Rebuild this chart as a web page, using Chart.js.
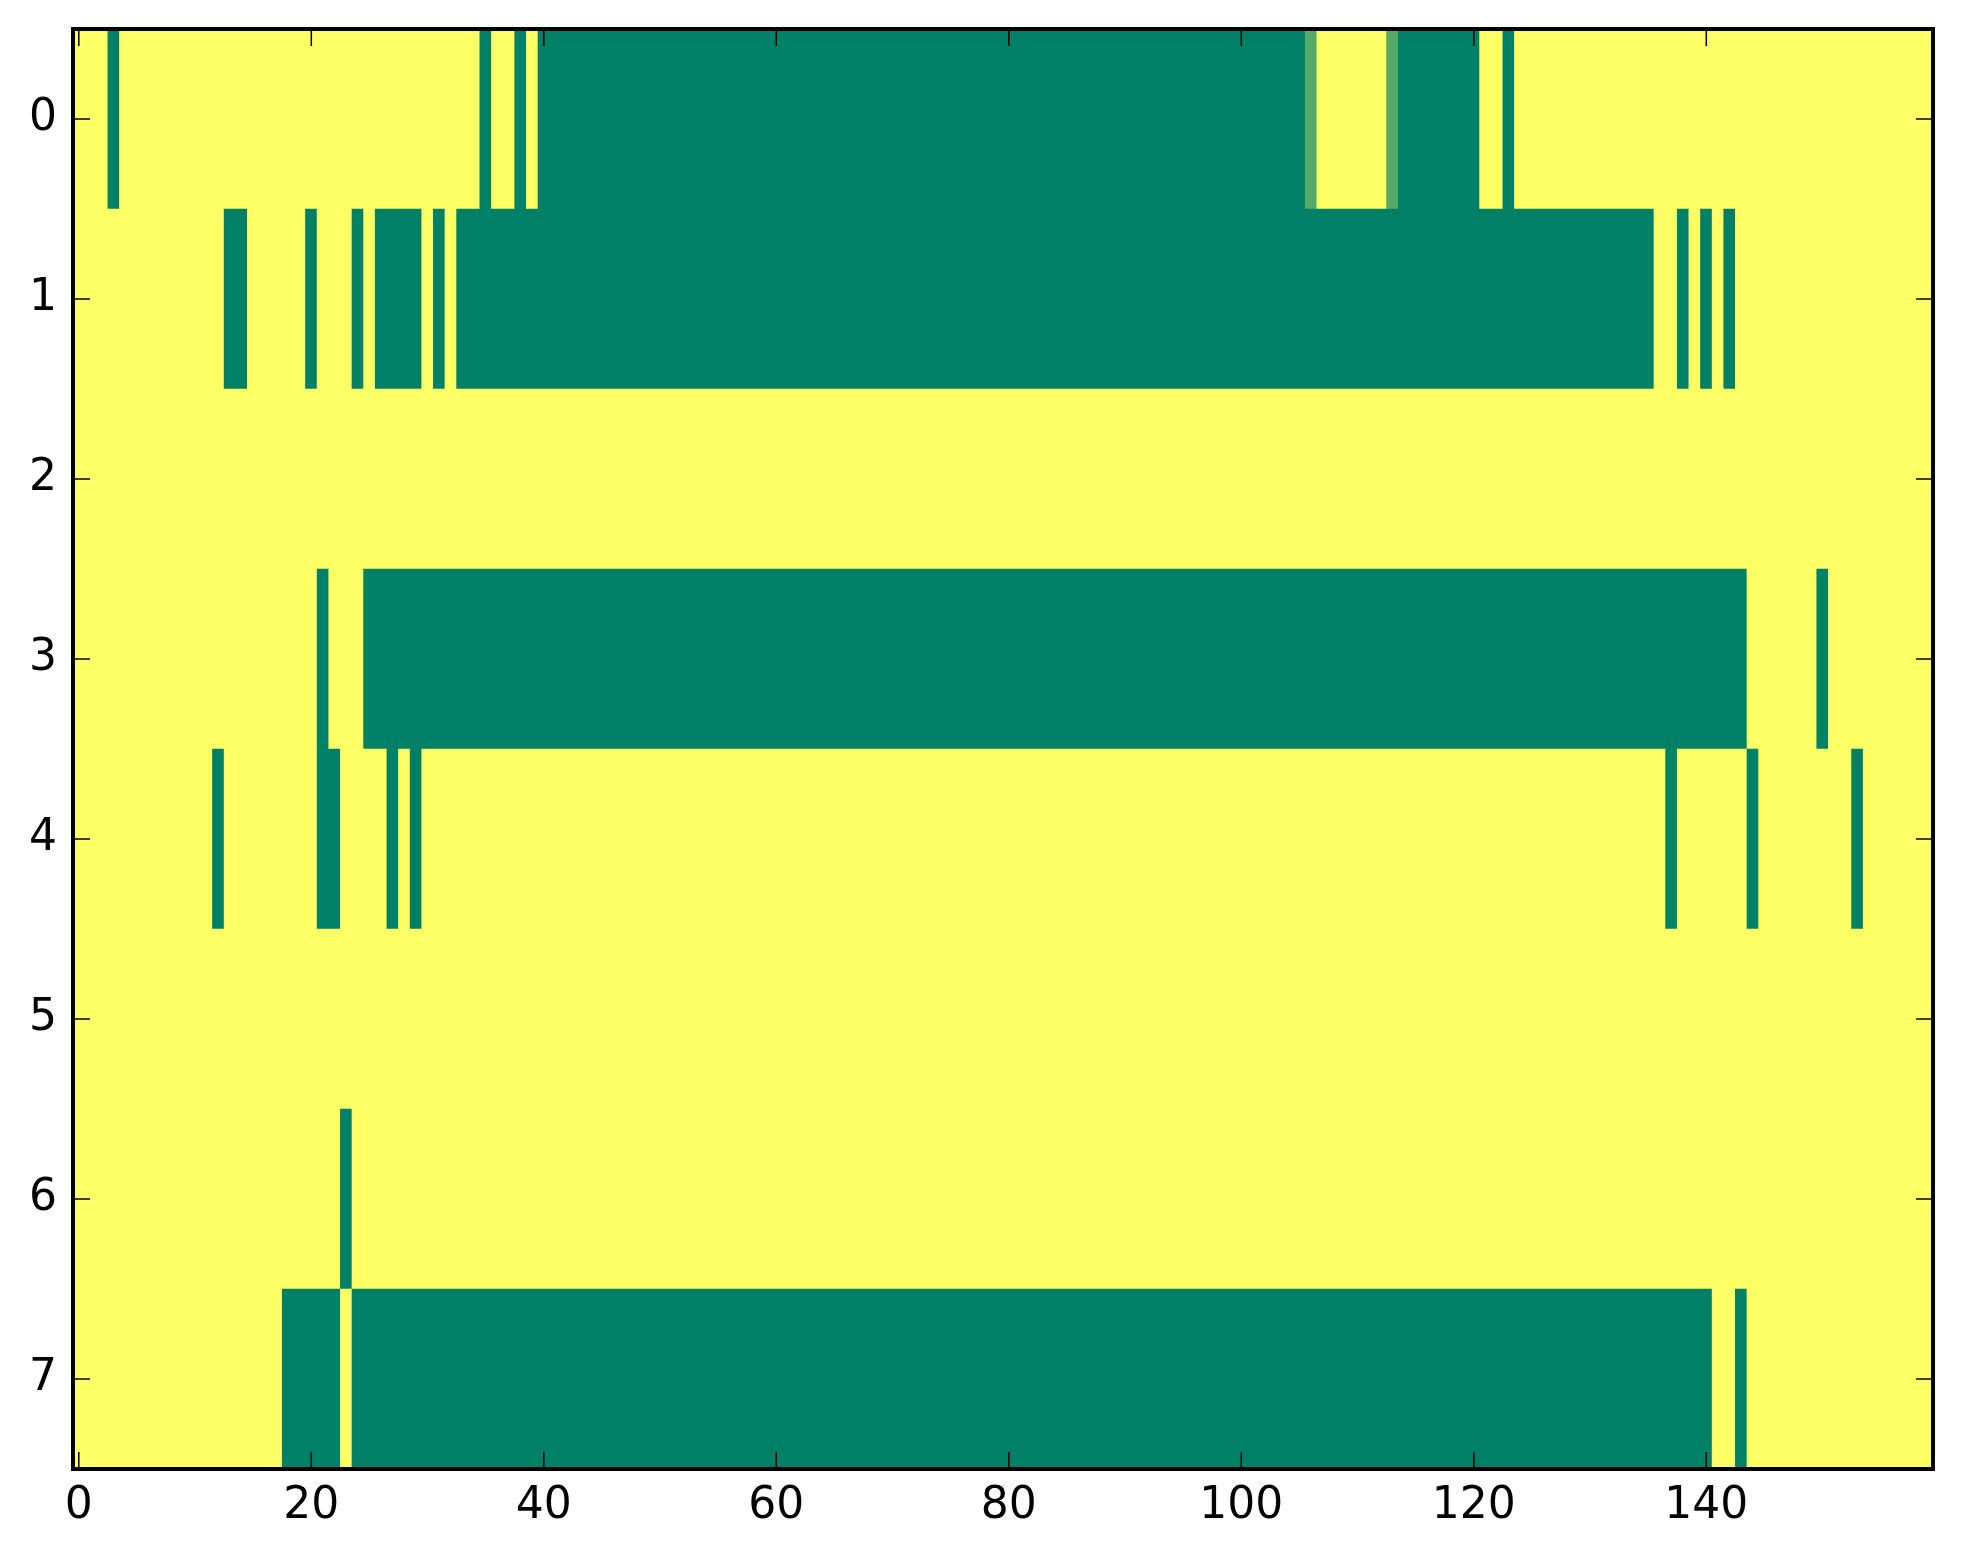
<!DOCTYPE html>
<html>
<head>
<meta charset="utf-8">
<script src="https://cdn.jsdelivr.net/npm/chart.js@4.4.1/dist/chart.umd.min.js"></script>
<style>
  html, body { margin: 0; padding: 0; background: #ffffff; }
  canvas { display: block; }
</style>
</head>
<body>
<canvas id="heatChart" width="1963" height="1564"></canvas>
<script>
// tick labels
const rowLabels = [0, 1, 2, 3, 4, 5, 6, 7];
const colTicks = [0, 20, 40, 60, 80, 100, 120, 140];

// cell values per row (0 = green, 1 = yellow), 160 columns each
const row0 = [
    1,1,1,0,1,1,1,1,1,1,1,1,1,1,1,1,1,1,1,1,
    1,1,1,1,1,1,1,1,1,1,1,1,1,1,1,0,1,1,0,1,
    0,0,0,0,0,0,0,0,0,0,0,0,0,0,0,0,0,0,0,0,
    0,0,0,0,0,0,0,0,0,0,0,0,0,0,0,0,0,0,0,0,
    0,0,0,0,0,0,0,0,0,0,0,0,0,0,0,0,0,0,0,0,
    0,0,0,0,0,0,0.33,1,1,1,1,1,1,0.33,0,0,0,0,0,0,
    0,1,1,0,1,1,1,1,1,1,1,1,1,1,1,1,1,1,1,1,
    1,1,1,1,1,1,1,1,1,1,1,1,1,1,1,1,1,1,1,1
];
const row1 = [
    1,1,1,1,1,1,1,1,1,1,1,1,1,0,0,1,1,1,1,1,
    0,1,1,1,0,1,0,0,0,0,1,0,1,0,0,0,0,0,0,0,
    0,0,0,0,0,0,0,0,0,0,0,0,0,0,0,0,0,0,0,0,
    0,0,0,0,0,0,0,0,0,0,0,0,0,0,0,0,0,0,0,0,
    0,0,0,0,0,0,0,0,0,0,0,0,0,0,0,0,0,0,0,0,
    0,0,0,0,0,0,0,0,0,0,0,0,0,0,0,0,0,0,0,0,
    0,0,0,0,0,0,0,0,0,0,0,0,0,0,0,0,1,1,0,1,
    0,1,0,1,1,1,1,1,1,1,1,1,1,1,1,1,1,1,1,1
];
const row2 = [
    1,1,1,1,1,1,1,1,1,1,1,1,1,1,1,1,1,1,1,1,
    1,1,1,1,1,1,1,1,1,1,1,1,1,1,1,1,1,1,1,1,
    1,1,1,1,1,1,1,1,1,1,1,1,1,1,1,1,1,1,1,1,
    1,1,1,1,1,1,1,1,1,1,1,1,1,1,1,1,1,1,1,1,
    1,1,1,1,1,1,1,1,1,1,1,1,1,1,1,1,1,1,1,1,
    1,1,1,1,1,1,1,1,1,1,1,1,1,1,1,1,1,1,1,1,
    1,1,1,1,1,1,1,1,1,1,1,1,1,1,1,1,1,1,1,1,
    1,1,1,1,1,1,1,1,1,1,1,1,1,1,1,1,1,1,1,1
];
const row3 = [
    1,1,1,1,1,1,1,1,1,1,1,1,1,1,1,1,1,1,1,1,
    1,0,1,1,1,0,0,0,0,0,0,0,0,0,0,0,0,0,0,0,
    0,0,0,0,0,0,0,0,0,0,0,0,0,0,0,0,0,0,0,0,
    0,0,0,0,0,0,0,0,0,0,0,0,0,0,0,0,0,0,0,0,
    0,0,0,0,0,0,0,0,0,0,0,0,0,0,0,0,0,0,0,0,
    0,0,0,0,0,0,0,0,0,0,0,0,0,0,0,0,0,0,0,0,
    0,0,0,0,0,0,0,0,0,0,0,0,0,0,0,0,0,0,0,0,
    0,0,0,0,1,1,1,1,1,1,0,1,1,1,1,1,1,1,1,1
];
const row4 = [
    1,1,1,1,1,1,1,1,1,1,1,1,0,1,1,1,1,1,1,1,
    1,0,0,1,1,1,1,0,1,0,1,1,1,1,1,1,1,1,1,1,
    1,1,1,1,1,1,1,1,1,1,1,1,1,1,1,1,1,1,1,1,
    1,1,1,1,1,1,1,1,1,1,1,1,1,1,1,1,1,1,1,1,
    1,1,1,1,1,1,1,1,1,1,1,1,1,1,1,1,1,1,1,1,
    1,1,1,1,1,1,1,1,1,1,1,1,1,1,1,1,1,1,1,1,
    1,1,1,1,1,1,1,1,1,1,1,1,1,1,1,1,1,0,1,1,
    1,1,1,1,0,1,1,1,1,1,1,1,1,0,1,1,1,1,1,1
];
const row5 = [
    1,1,1,1,1,1,1,1,1,1,1,1,1,1,1,1,1,1,1,1,
    1,1,1,1,1,1,1,1,1,1,1,1,1,1,1,1,1,1,1,1,
    1,1,1,1,1,1,1,1,1,1,1,1,1,1,1,1,1,1,1,1,
    1,1,1,1,1,1,1,1,1,1,1,1,1,1,1,1,1,1,1,1,
    1,1,1,1,1,1,1,1,1,1,1,1,1,1,1,1,1,1,1,1,
    1,1,1,1,1,1,1,1,1,1,1,1,1,1,1,1,1,1,1,1,
    1,1,1,1,1,1,1,1,1,1,1,1,1,1,1,1,1,1,1,1,
    1,1,1,1,1,1,1,1,1,1,1,1,1,1,1,1,1,1,1,1
];
const row6 = [
    1,1,1,1,1,1,1,1,1,1,1,1,1,1,1,1,1,1,1,1,
    1,1,1,0,1,1,1,1,1,1,1,1,1,1,1,1,1,1,1,1,
    1,1,1,1,1,1,1,1,1,1,1,1,1,1,1,1,1,1,1,1,
    1,1,1,1,1,1,1,1,1,1,1,1,1,1,1,1,1,1,1,1,
    1,1,1,1,1,1,1,1,1,1,1,1,1,1,1,1,1,1,1,1,
    1,1,1,1,1,1,1,1,1,1,1,1,1,1,1,1,1,1,1,1,
    1,1,1,1,1,1,1,1,1,1,1,1,1,1,1,1,1,1,1,1,
    1,1,1,1,1,1,1,1,1,1,1,1,1,1,1,1,1,1,1,1
];
const row7 = [
    1,1,1,1,1,1,1,1,1,1,1,1,1,1,1,1,1,1,0,0,
    0,0,0,1,0,0,0,0,0,0,0,0,0,0,0,0,0,0,0,0,
    0,0,0,0,0,0,0,0,0,0,0,0,0,0,0,0,0,0,0,0,
    0,0,0,0,0,0,0,0,0,0,0,0,0,0,0,0,0,0,0,0,
    0,0,0,0,0,0,0,0,0,0,0,0,0,0,0,0,0,0,0,0,
    0,0,0,0,0,0,0,0,0,0,0,0,0,0,0,0,0,0,0,0,
    0,0,0,0,0,0,0,0,0,0,0,0,0,0,0,0,0,0,0,0,
    0,1,1,0,1,1,1,1,1,1,1,1,1,1,1,1,1,1,1,1
];

const rows = [row0, row1, row2, row3, row4, row5, row6, row7];
const nCols = row0.length;

// colormap "summer" cua matplotlib
function summer(v) {
    const r = Math.round(255 * v);
    const g = Math.round(255 * (0.5 + v / 2));
    return `rgb(${r},${g},102)`;
}

// gop cac o lien tiep cung gia tri thanh 1 thanh ngang (tranh vet ho giua cac o)
function rowToRuns(values, rowIdx) {
    const runs = [];
    let start = 0;
    for (let i = 1; i <= values.length; i++) {
        if (i === values.length || values[i] !== values[start]) {
            runs.push({ y: rowIdx, x: [start - 0.5, i - 0.5], v: values[start] });
            start = i;
        }
    }
    return runs;
}

const cells = [];
rows.forEach((r, idx) => cells.push(...rowToRuns(r, idx)));

// khung den + vach chia huong vao trong nhu matplotlib classic
const framePlugin = {
    id: 'frame',
    afterDatasetsDraw(chart) {
        const { ctx, chartArea: a, scales } = chart;
        const tickLen = 17;
        ctx.save();
        ctx.strokeStyle = '#000';
        ctx.lineWidth = 1.5;
        ctx.beginPath();
        colTicks.forEach(t => {
            const px = scales.x.getPixelForValue(t);
            ctx.moveTo(px, a.bottom);
            ctx.lineTo(px, a.bottom - tickLen);
            ctx.moveTo(px, a.top);
            ctx.lineTo(px, a.top + tickLen);
        });
        rowLabels.forEach(t => {
            const py = scales.y.getPixelForValue(t);
            ctx.moveTo(a.left, py);
            ctx.lineTo(a.left + tickLen, py);
            ctx.moveTo(a.right, py);
            ctx.lineTo(a.right - tickLen, py);
        });
        ctx.stroke();
        ctx.lineWidth = 4;
        ctx.strokeRect(a.left, a.top, a.right - a.left, a.bottom - a.top);
        ctx.restore();
    }
};

const tickFont = { family: 'DejaVu Sans', size: 44 };

new Chart(document.getElementById('heatChart').getContext('2d'), {
    type: 'bar',
    data: {
        datasets: [{
            data: cells,
            backgroundColor: c => summer(c.raw.v),
            borderWidth: 0,
            borderSkipped: false,
            barPercentage: 1,
            categoryPercentage: 1
        }]
    },
    options: {
        indexAxis: 'y',
        responsive: false,
        animation: false,
        layout: { padding: { top: 29, right: 30, left: 0, bottom: 0 } },
        plugins: {
            legend: { display: false },
            tooltip: { enabled: false }
        },
        scales: {
            x: {
                type: 'linear',
                position: 'bottom',
                min: -0.5,
                max: nCols - 0.5,
                offset: false,
                grid: { display: false, drawTicks: false },
                border: { display: false },
                afterBuildTicks: axis => { axis.ticks = colTicks.map(v => ({ value: v })); },
                afterFit: axis => {
                    axis.height = 95;
                    axis.paddingLeft = 0;
                    axis.paddingRight = 0;
                },
                ticks: {
                    font: tickFont,
                    color: '#000',
                    padding: 11,
                    maxRotation: 0,
                    autoSkip: false,
                    callback: v => String(v)
                }
            },
            y: {
                type: 'linear',
                reverse: true,
                min: -0.5,
                max: rows.length - 0.5,
                offset: false,
                grid: { display: false, drawTicks: false, offset: false },
                border: { display: false },
                afterBuildTicks: axis => { axis.ticks = rowLabels.map(v => ({ value: v })); },
                afterFit: axis => {
                    axis.width = 73;
                    axis.paddingTop = 0;
                    axis.paddingBottom = 0;
                },
                ticks: {
                    font: tickFont,
                    color: '#000',
                    padding: 16,
                    autoSkip: false,
                    callback: v => String(v)
                }
            }
        }
    },
    plugins: [framePlugin]
});
</script>
</body>
</html>
